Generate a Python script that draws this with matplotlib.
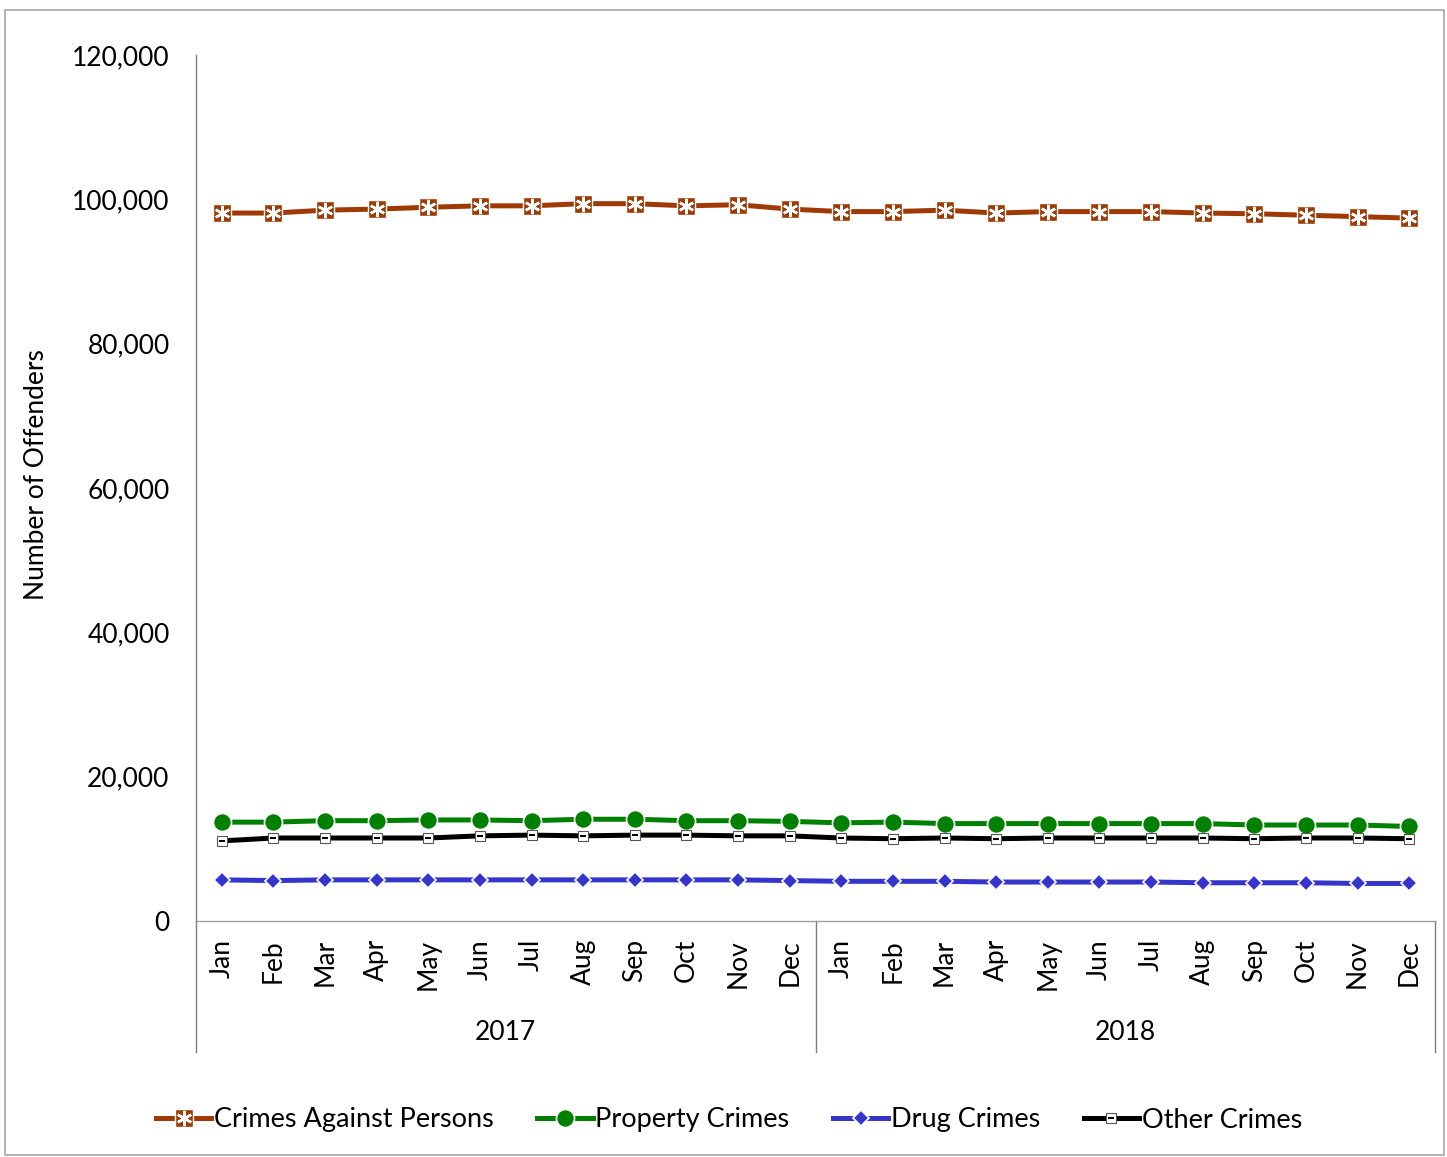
import matplotlib
matplotlib.use("Agg")
import matplotlib.pyplot as plt
from matplotlib.patches import Rectangle
from matplotlib.legend_handler import HandlerTuple

plt.rcParams['font.family'] = ['Lato', 'DejaVu Sans']

months = ["Jan", "Feb", "Mar", "Apr", "May", "Jun", "Jul", "Aug", "Sep", "Oct", "Nov", "Dec"]
years = ["2017", "2018"]

persons = [98100, 98100, 98500, 98650, 98900, 99100, 99100, 99400, 99400, 99100, 99250, 98650,
           98300, 98300, 98500, 98100, 98300, 98300, 98300, 98100, 98000, 97800, 97600, 97400]
property_c = [13700, 13700, 13900, 13900, 14000, 14000, 13900, 14100, 14100, 13900, 13900, 13800,
              13600, 13700, 13500, 13500, 13500, 13500, 13500, 13500, 13300, 13300, 13300, 13100]
drug = [5700, 5600, 5700, 5700, 5700, 5700, 5700, 5700, 5700, 5700, 5700, 5600,
        5500, 5500, 5500, 5400, 5400, 5400, 5400, 5300, 5300, 5300, 5200, 5200]
other = [11100, 11500, 11500, 11500, 11500, 11800, 11900, 11800, 11900, 11900, 11800, 11800,
         11500, 11400, 11500, 11400, 11500, 11500, 11500, 11500, 11400, 11500, 11500, 11400]

yticks = [0, 20000, 40000, 60000, 80000, 100000, 120000]

W, H = 1447, 1157
fig = plt.figure(figsize=(W / 100, H / 100), dpi=100)
ax = fig.add_axes([196 / W, 1 - 921 / H, (1435 - 196) / W, (921 - 55) / H])

x = list(range(len(persons)))
fs = 19

brown = '#A03A05'
green = '#008000'
blue = '#3535CC'

l1, = ax.plot(x, persons, color=brown, lw=3.6, marker='s', ms=13, mfc=brown, mec='white', mew=1, zorder=3)
l1b, = ax.plot(x, persons, ls='none', marker=(6, 2, 0), ms=11, mec='white', mew=1.8, zorder=4)
l2, = ax.plot(x, property_c, color=green, lw=3.6, marker='o', ms=13, mfc=green, mec='white', mew=1.2, zorder=3)
l4, = ax.plot(x, other, color='black', lw=3.6, marker='s', ms=7, mfc='white', mec='#555555', mew=0.8, zorder=3)
l4b, = ax.plot(x, other, ls='none', marker='_', ms=5, mec='black', mew=1.5, zorder=4)
l3, = ax.plot(x, drug, color=blue, lw=3.6, marker='D', ms=8, mfc=blue, mec='white', mew=1.2, zorder=3)

ax.set_xlim(-0.5, len(persons) - 0.5)
ax.set_ylim(0, 120000)
ax.set_yticks(yticks)
ax.set_yticklabels([f"{v:,}" for v in yticks], fontsize=fs)
ax.tick_params(axis='y', length=0, pad=19)

ax.set_xticks(x)
ax.set_xticklabels(months * len(years), rotation=90, fontsize=fs)
ax.tick_params(axis='x', length=0, pad=13)

for s in ['top', 'right']:
    ax.spines[s].set_visible(False)
ax.spines['left'].set_color('#7f7f7f')
ax.spines['bottom'].set_color('#a0a0a0')
ax.spines['left'].set_linewidth(1.0)
ax.spines['bottom'].set_linewidth(1.0)

tr = ax.get_xaxis_transform()
ybot = -(1052 - 921) / (921 - 55)
for xb in [-0.5, 11.5, 23.5]:
    ax.plot([xb, xb], [0, ybot], transform=tr, color='#7f7f7f', lw=1.0, clip_on=False)
for i, yr in enumerate(years):
    ax.text(i * 12 + 5.5, -(1032 - 921) / (921 - 55), yr, transform=tr, ha='center', va='center', fontsize=fs)

ax.set_ylabel("Number of Offenders", fontsize=fs)
ax.yaxis.set_label_coords(-(196 - 49) / (1435 - 196), (921 - 475) / (921 - 55))

fig.legend([(l1, l1b), l2, l3, (l4, l4b)],
           ["Crimes Against Persons", "Property Crimes", "Drug Crimes", "Other Crimes"],
           handler_map={tuple: HandlerTuple(ndivide=1)},
           loc='center', bbox_to_anchor=(729 / W, 1 - 1120 / H), ncol=4, frameon=False,
           fontsize=19.5, handlelength=2.05, handletextpad=0.1, columnspacing=1.6)

fig.patches.append(Rectangle((5 / W, 1 - 1155 / H), (1444 - 5) / W, (1155 - 10) / H,
                             transform=fig.transFigure, fill=False, ec='#a6a6a6', lw=1.2))

fig.savefig("out.png", dpi=100)
